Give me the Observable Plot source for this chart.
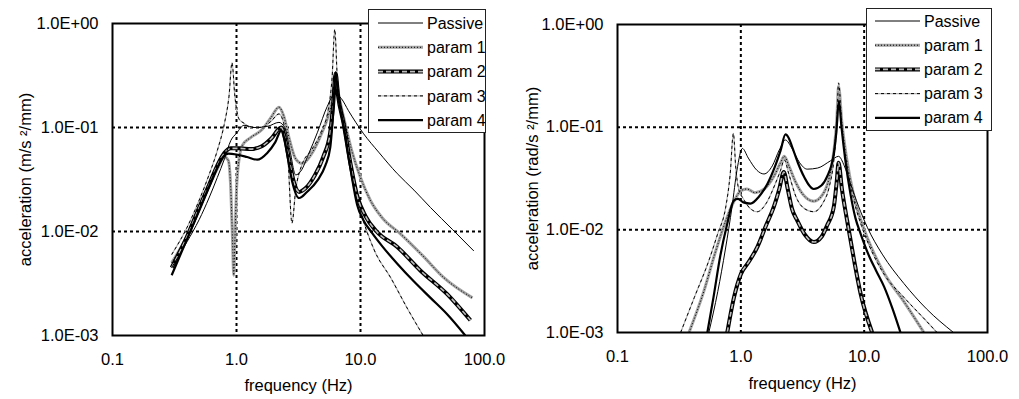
<!DOCTYPE html>
<html>
<head>
<meta charset="utf-8">
<script src="https://cdn.jsdelivr.net/npm/d3@7"></script>
<script src="https://cdn.jsdelivr.net/npm/@observablehq/plot@0.6"></script>
<style>
  html, body { margin: 0; padding: 0; background: #fff; }
  #wrap { position: relative; width: 1019px; height: 399px; overflow: hidden; font-family: "Liberation Sans", Arial, sans-serif; }
  .panel { position: absolute; top: 0; overflow: visible; }
  .legend { position: absolute; }
</style>
</head>
<body>
<div id="wrap"></div>
<script>
// ---------- axis ticks ----------
const xTicks = [0.1, 1, 10, 100];
const xTickLabels = ["0.1", "1.0", "10.0", "100.0"];
const yTicks = [1, 0.1, 0.01, 0.001];
const yTickLabels = ["1.0E+00", "1.0E-01", "1.0E-02", "1.0E-03"];
const xGrid = [1, 10];
const yGrid = [0.1, 0.01];
const seriesNames = ["Passive", "param 1", "param 2", "param 3", "param 4"];
const xLabel = "frequency (Hz)";
const yLabelLeft = "acceleration (m/s ²/mm)";
const yLabelRight = "acceleration (rad/s ²/mm)";

// ---------- left panel data: [frequency Hz, acceleration] ----------
const leftPassive = [[0.3,0.0045],[0.4,0.008],[0.5,0.013],[0.6,0.021],[0.7,0.033],[0.8,0.05],[0.9,0.075],[1.0,0.088],[1.15,0.105],[1.4,0.1],[1.8,0.103],[2.2,0.112],[2.45,0.1],[2.7,0.06],[3.0,0.035],[3.3,0.038],[3.8,0.055],[4.5,0.09],[5.4,0.16],[6.2,0.21],[7.0,0.19],[8.0,0.145],[10.6,0.087],[14,0.058],[19.8,0.036],[27,0.025],[36.7,0.017],[55,0.0105],[82,0.0065]];
const leftParam1 = [[0.3,0.005],[0.4,0.009],[0.5,0.016],[0.6,0.027],[0.7,0.04],[0.8,0.052],[0.86,0.048],[0.9,0.025],[0.93,0.008],[0.95,0.0038],[0.97,0.008],[1.0,0.025],[1.05,0.05],[1.12,0.068],[1.3,0.08],[1.6,0.095],[1.9,0.125],[2.2,0.157],[2.4,0.13],[2.65,0.08],[3.0,0.05],[3.4,0.045],[4.0,0.055],[4.8,0.085],[5.5,0.13],[6.0,0.2],[6.3,0.3],[6.7,0.2],[7.5,0.11],[8.5,0.06],[10,0.033],[12,0.02],[15,0.0135],[21,0.0095],[32,0.0058],[47,0.0036],[80,0.0023]];
const leftParam2 = [[0.3,0.0045],[0.4,0.009],[0.5,0.017],[0.6,0.028],[0.7,0.043],[0.8,0.057],[0.9,0.063],[1.05,0.063],[1.3,0.062],[1.6,0.066],[1.9,0.078],[2.3,0.1],[2.45,0.08],[2.65,0.05],[2.9,0.03],[3.2,0.024],[3.6,0.026],[4.3,0.035],[5.0,0.052],[5.7,0.09],[6.0,0.16],[6.3,0.33],[6.6,0.2],[7.3,0.11],[8.3,0.045],[9.4,0.022],[11,0.014],[13.5,0.01],[19.8,0.0071],[30.5,0.0042],[50,0.0025],[77,0.0014]];
const leftParam3 = [[0.3,0.006],[0.4,0.011],[0.5,0.02],[0.6,0.035],[0.7,0.06],[0.8,0.11],[0.87,0.2],[0.92,0.42],[0.97,0.2],[1.05,0.12],[1.15,0.11],[1.3,0.1],[1.6,0.1],[1.9,0.115],[2.2,0.135],[2.4,0.11],[2.6,0.05],[2.8,0.012],[3.0,0.025],[3.4,0.045],[4.0,0.06],[4.8,0.09],[5.5,0.15],[5.9,0.3],[6.2,0.88],[6.5,0.3],[7.2,0.12],[8.3,0.045],[10,0.016],[13,0.0065],[17.5,0.0036],[24,0.0018],[32,0.001]];
const leftParam4 = [[0.3,0.0038],[0.4,0.0085],[0.5,0.016],[0.6,0.027],[0.7,0.041],[0.78,0.052],[0.86,0.056],[1.0,0.055],[1.22,0.052],[1.47,0.049],[1.77,0.057],[2.05,0.072],[2.3,0.094],[2.45,0.075],[2.6,0.05],[2.8,0.031],[3.2,0.021],[3.7,0.024],[4.5,0.031],[5.2,0.043],[5.7,0.064],[6.0,0.13],[6.3,0.34],[6.6,0.2],[7.3,0.105],[8.3,0.04],[9.4,0.018],[10.5,0.013],[12.3,0.0098],[15,0.0072],[19.8,0.0049],[27,0.0033],[36.7,0.0023],[50,0.0016],[70,0.001]];

// ---------- right panel data ----------
const rightPassive = [[0.55,0.001],[0.65,0.0025],[0.75,0.0065],[0.85,0.017],[0.93,0.038],[1.03,0.062],[1.15,0.05],[1.35,0.038],[1.54,0.035],[1.8,0.042],[2.05,0.06],[2.3,0.075],[2.6,0.062],[3.0,0.045],[3.45,0.039],[4.2,0.04],[5.33,0.047],[6.2,0.052],[6.9,0.042],[7.76,0.028],[9,0.017],[10.6,0.0106],[14,0.0058],[21,0.003],[32,0.0017],[53,0.001]];
const rightParam1 = [[0.38,0.001],[0.5,0.0025],[0.62,0.006],[0.75,0.012],[0.88,0.019],[1.0,0.024],[1.12,0.025],[1.3,0.023],[1.55,0.025],[1.85,0.033],[2.1,0.045],[2.25,0.052],[2.45,0.042],[2.75,0.03],[3.2,0.022],[3.9,0.019],[4.6,0.022],[5.2,0.032],[5.7,0.06],[6.0,0.12],[6.2,0.25],[6.6,0.11],[7.2,0.05],[8.2,0.022],[9.5,0.012],[11,0.0075],[14.5,0.0038],[21,0.002],[30.5,0.001]];
const rightParam2 = [[0.776,0.001],[0.88,0.0022],[1.0,0.0037],[1.15,0.0048],[1.36,0.0068],[1.6,0.011],[1.85,0.0167],[2.05,0.025],[2.23,0.0365],[2.4,0.025],[2.6,0.016],[2.87,0.0123],[3.3,0.009],[3.9,0.0076],[4.5,0.0085],[5.0,0.011],[5.67,0.0167],[6.0,0.03],[6.2,0.045],[6.6,0.025],[7.3,0.012],[8.3,0.005],[9.35,0.0024],[11.6,0.001]];
const rightParam3 = [[0.325,0.001],[0.42,0.0022],[0.55,0.005],[0.65,0.0092],[0.75,0.016],[0.82,0.035],[0.87,0.087],[0.91,0.04],[0.96,0.025],[1.05,0.02],[1.2,0.016],[1.36,0.015],[1.6,0.018],[1.9,0.028],[2.1,0.038],[2.25,0.048],[2.45,0.035],[2.8,0.021],[3.3,0.016],[3.9,0.015],[4.6,0.018],[5.2,0.026],[5.7,0.05],[6.0,0.11],[6.2,0.27],[6.6,0.1],[7.2,0.045],[8.2,0.02],[9.5,0.011],[11,0.007],[14.5,0.0037],[21,0.0022],[30,0.0014],[39,0.001]];
const rightParam4 = [[0.535,0.001],[0.6,0.0022],[0.68,0.0055],[0.77,0.011],[0.877,0.0193],[0.95,0.02],[1.05,0.0185],[1.2,0.018],[1.4,0.021],[1.64,0.028],[1.9,0.042],[2.1,0.059],[2.3,0.085],[2.45,0.078],[2.61,0.064],[2.9,0.045],[3.25,0.033],[3.9,0.025],[4.5,0.027],[5.0,0.033],[5.67,0.055],[5.95,0.09],[6.24,0.18],[6.55,0.1],[7.0,0.05],[7.76,0.022],[8.5,0.013],[9.35,0.0092],[11,0.0055],[12.5,0.004],[14.5,0.0028],[17,0.0017],[19.7,0.001]];

// ---------- styles (layered strokes per series) ----------
const seriesStyles = {
  "Passive": [{stroke: "#000", strokeWidth: 1}],
  "param 1": [{stroke: "#a3a3a3", strokeWidth: 3}, {stroke: "#000", strokeWidth: 1, strokeDasharray: "1,2"}],
  "param 2": [{stroke: "#000", strokeWidth: 4}, {stroke: "#bdbdbd", strokeWidth: 1.6, strokeDasharray: "5,3"}],
  "param 3": [{stroke: "#b3b3b3", strokeWidth: 1.2}, {stroke: "#000", strokeWidth: 1, strokeDasharray: "3,3"}],
  "param 4": [{stroke: "#000", strokeWidth: 2.2}]
};
const drawOrder = ["param 1", "param 3", "param 2", "param 4", "Passive"];
const FONT = '"Liberation Sans", Arial, sans-serif';

function lookup(ticks, labels) {
  return d => {
    const i = ticks.findIndex(t => Math.abs(Math.log10(t) - Math.log10(d)) < 1e-6);
    return i >= 0 ? labels[i] : "";
  };
}

function panel(seriesData, yLabel, dims) {
  const lineMarks = [];
  for (const name of drawOrder) {
    for (const st of seriesStyles[name]) {
      lineMarks.push(Plot.line(seriesData[name], {
        x: d => d[0], y: d => d[1], curve: "monotone-x", clip: true,
        strokeLinejoin: "round", strokeLinecap: "butt", ...st
      }));
    }
  }
  return Plot.plot({
    width: dims.width, height: 399,
    marginLeft: dims.ml, marginRight: dims.mr, marginTop: dims.mt, marginBottom: dims.mb,
    style: {fontFamily: FONT, fontSize: "16.5px", color: "#000", background: "transparent", overflow: "visible"},
    x: {type: "log", domain: [0.1, 100]},
    y: {type: "log", domain: [0.001, 1]},
    marks: [
      Plot.ruleX(xGrid, {stroke: "#000", strokeWidth: 2, strokeDasharray: "3,3"}),
      Plot.ruleY(yGrid, {stroke: "#000", strokeWidth: 2, strokeDasharray: "3,3"}),
      ...lineMarks,
      Plot.frame({stroke: "#000", strokeWidth: 2}),
      Plot.axisX({ticks: xTicks, tickFormat: lookup(xTicks, xTickLabels), tickSize: 0, tickPadding: 18, fontSize: 16.5, label: null}),
      Plot.axisY({ticks: yTicks, tickFormat: lookup(yTicks, yTickLabels), tickSize: 0, tickPadding: 14, fontSize: 16.5, label: null}),
      Plot.text([yLabel], {text: d => d, frameAnchor: "left", textAnchor: "middle", lineAnchor: "middle", dx: dims.ylx, rotate: -90, fontSize: 16.5, fill: "#000"}),
      Plot.text([xLabel], {text: d => d, frameAnchor: "bottom", textAnchor: "middle", lineAnchor: "middle", dy: dims.xly, fontSize: 16.5, fill: "#000"})
    ]
  });
}

function legend(box) {
  const svg = d3.create("svg").attr("width", box.w).attr("height", box.h)
    .attr("class", "legend")
    .style("left", box.x + "px").style("top", box.y + "px")
    .style("font-family", FONT);
  svg.append("rect").attr("x", 0.5).attr("y", 0.5).attr("width", box.w - 1).attr("height", box.h - 1)
    .attr("fill", "#fff").attr("stroke", "#222").attr("stroke-width", 1);
  seriesNames.forEach((name, i) => {
    const cy = box.first + i * box.step;
    for (const st of seriesStyles[name]) {
      svg.append("line").attr("x1", box.sx).attr("x2", box.sx + 45).attr("y1", cy).attr("y2", cy)
        .attr("stroke", st.stroke).attr("stroke-width", st.strokeWidth)
        .attr("stroke-dasharray", st.strokeDasharray || null);
    }
    svg.append("text").attr("x", box.sx + 49).attr("y", cy).attr("dy", "0.35em")
      .attr("font-size", 16).attr("fill", "#000").text(name);
  });
  return svg.node();
}

const wrap = document.getElementById("wrap");
const left = panel({"Passive": leftPassive, "param 1": leftParam1, "param 2": leftParam2, "param 3": leftParam3, "param 4": leftParam4},
  yLabelLeft, {width: 500, ml: 112, mr: 16, mt: 23, mb: 64, ylx: -87, xly: 50});
left.classList.add("panel"); left.style.left = "0px";
wrap.appendChild(left);

const right = panel({"Passive": rightPassive, "param 1": rightParam1, "param 2": rightParam2, "param 3": rightParam3, "param 4": rightParam4},
  yLabelRight, {width: 519, ml: 117, mr: 32, mt: 24, mb: 67, ylx: -85, xly: 51});
right.classList.add("panel"); right.style.left = "500px";
wrap.appendChild(right);

wrap.appendChild(legend({x: 368, y: 9, w: 118, h: 124, sx: 10, first: 14, step: 24.3}));
wrap.appendChild(legend({x: 866, y: 8, w: 126, h: 123, sx: 9, first: 13, step: 24.2}));
</script>
</body>
</html>
